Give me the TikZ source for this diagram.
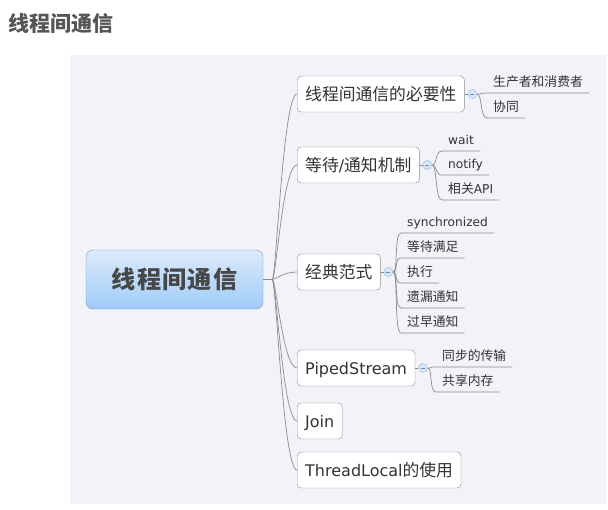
\documentclass[tikz,border=0pt]{standalone}
\usepackage{fontspec}
\setmainfont{DejaVu Sans}
\newfontfamily\cjk[Scale=1.05]{Noto Sans CJK SC}
\newfontfamily\cjkwide[Scale=1.05,LetterSpace=5]{Noto Sans CJK SC}
\newcommand{\zh}[1]{{\cjk #1}}
\usetikzlibrary{positioning}
\definecolor{panelbg}{HTML}{F2F3F8}
\definecolor{ink}{HTML}{333333}
\definecolor{titlegray}{HTML}{555555}
\definecolor{linkgray}{HTML}{8C8C8C}
\definecolor{boxgray}{HTML}{8A8A8A}
\definecolor{rootgray}{HTML}{8396AB}
\definecolor{rootTop}{HTML}{DCEBFC}
\definecolor{rootBot}{HTML}{9FCBF9}
\definecolor{foldfill}{HTML}{D8E7FB}
\definecolor{folddraw}{HTML}{A6C2EA}
\begin{document}
\begin{tikzpicture}[x=1pt, y=-1pt,
	link/.style={draw=linkgray, line width=0.7pt},
	root/.style={draw=rootgray, rounded corners=7pt, top color=rootTop, bottom color=rootBot, minimum width=177pt, minimum height=59pt, text=ink!90, text height=20pt, text depth=3pt, font=\fontsize{23}{27}\selectfont\bfseries},
	branch/.style={draw=boxgray, fill=white, rounded corners=4pt, minimum height=36pt, inner xsep=8pt, text=ink, text height=15pt, text depth=2.8pt, anchor=west, font=\fontsize{16}{19}\selectfont},
	leaf/.style={inner xsep=6pt, inner ysep=3pt, text height=10pt, text depth=3pt, anchor=south west, text=ink, font=\fontsize{12.2}{15}\selectfont},
	fold/.style={circle, draw=folddraw, fill=foldfill, minimum size=9pt, inner sep=0pt, line width=0.6pt, right=3pt of #1,
		path picture={\draw[folddraw!70!black, line width=0.5pt] ([xshift=-2pt]path picture bounding box.center) -- ([xshift=2pt]path picture bounding box.center);}}
]
	\useasboundingbox (0,0) rectangle (608,509);
	\fill[panelbg] (70,55) rectangle (606,504);
	\draw (8,31) node[anchor=base west, inner sep=0pt, text=titlegray, font=\fontsize{20}{24}\selectfont\bfseries] (title) {\zh{线程间通信}};

	\draw (174.5,279.5) node[root] (root) {{\cjkwide 线程间通信}};
	\draw[link] (root.east) -- ++(9,0) coordinate (hub);

	\draw (297,94) node[branch] (b1) {\zh{线程间通信的必要性}};
	\draw (297,165) node[branch] (b2) {\zh{等待}/\zh{通知机制}};
	\draw (297,272) node[branch] (b3) {\zh{经典范式}};
	\draw (297,368) node[branch] (b4) {PipedStream};
	\draw (297,421) node[branch] (b5) {Join};
	\draw (297,470) node[branch] (b6) {ThreadLocal\zh{的使用}};

	\draw[link] (hub) .. controls +(4,0) and +(-14,0) .. (b1.west);
	\draw[link] (hub) .. controls +(4,0) and +(-14,0) .. (b2.west);
	\draw[link] (hub) .. controls +(4,0) and +(-14,0) .. (b3.west);
	\draw[link] (hub) .. controls +(4,0) and +(-14,0) .. (b4.west);
	\draw[link] (hub) .. controls +(4,0) and +(-14,0) .. (b5.west);
	\draw[link] (hub) .. controls +(4,0) and +(-14,0) .. (b6.west);

	\node[fold=b1] (f1) {};
	\node[fold=b2] (f2) {};
	\node[fold=b3] (f3) {};
	\node[fold=b4] (f4) {};
	\draw[link] (b1.east) -- (f1.west);
	\draw[link] (b2.east) -- (f2.west);
	\draw[link] (b3.east) -- (f3.west);
	\draw[link] (b4.east) -- (f4.west);

	\draw (487,93) node[leaf] (l11) {\zh{生产者和消费者}};
	\draw (487,118) node[leaf] (l12) {\zh{协同}};

	\draw (442,151) node[leaf] (l21) {wait};
	\draw (442,175) node[leaf] (l22) {notify};
	\draw (442,200) node[leaf] (l23) {\zh{相关}API};

	\draw (401,233) node[leaf] (l31) {synchronized};
	\draw (401,258) node[leaf] (l32) {\zh{等待满足}};
	\draw (401,283) node[leaf] (l33) {\zh{执行}};
	\draw (401,308) node[leaf] (l34) {\zh{遗漏通知}};
	\draw (401,333) node[leaf] (l35) {\zh{过早通知}};

	\draw (436,367) node[leaf] (l41) {\zh{同步的传输}};
	\draw (436,392) node[leaf] (l42) {\zh{共享内存}};

	\draw[link] (f1.east) .. controls +(5,0) and +(-7,0) .. (l11.south west) -- (l11.south east);
	\draw[link] (f1.east) .. controls +(5,0) and +(-7,0) .. (l12.south west) -- (l12.south east);
	\draw[link] (f2.east) .. controls +(5,0) and +(-7,0) .. (l21.south west) -- (l21.south east);
	\draw[link] (f2.east) .. controls +(5,0) and +(-7,0) .. (l22.south west) -- (l22.south east);
	\draw[link] (f2.east) .. controls +(5,0) and +(-7,0) .. (l23.south west) -- (l23.south east);
	\draw[link] (f3.east) .. controls +(5,0) and +(-7,0) .. (l31.south west) -- (l31.south east);
	\draw[link] (f3.east) .. controls +(5,0) and +(-7,0) .. (l32.south west) -- (l32.south east);
	\draw[link] (f3.east) .. controls +(5,0) and +(-7,0) .. (l33.south west) -- (l33.south east);
	\draw[link] (f3.east) .. controls +(5,0) and +(-7,0) .. (l34.south west) -- (l34.south east);
	\draw[link] (f3.east) .. controls +(5,0) and +(-7,0) .. (l35.south west) -- (l35.south east);
	\draw[link] (f4.east) .. controls +(5,0) and +(-7,0) .. (l41.south west) -- (l41.south east);
	\draw[link] (f4.east) .. controls +(5,0) and +(-7,0) .. (l42.south west) -- (l42.south east);
\end{tikzpicture}
\end{document}
